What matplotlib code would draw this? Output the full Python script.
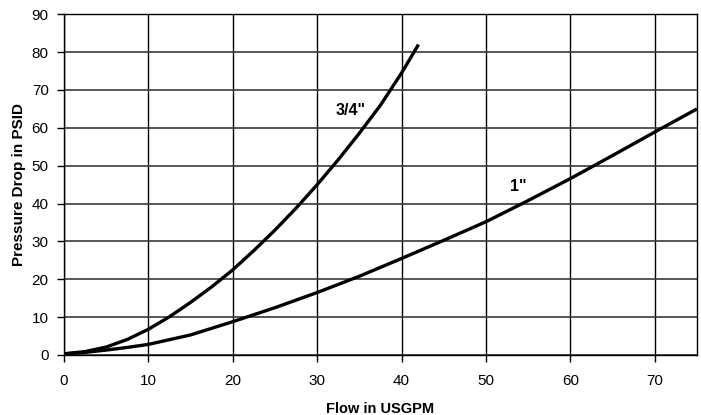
import matplotlib
matplotlib.use("Agg")
import matplotlib.pyplot as plt

plt.rcParams['font.family'] = ['Liberation Sans', 'DejaVu Sans']

# 3/4" valve
flow_34 = [0, 2.5, 5, 7.5, 10, 12.5, 15, 17.5, 20, 22.5, 25, 27.5, 30, 32.5, 35, 37.5, 40, 42]
dp_34 = [0.3, 0.9, 2.1, 4.1, 6.8, 10.1, 13.9, 18.0, 22.5, 27.6, 33.0, 38.8, 45.0, 51.6, 58.6, 66.0, 74.5, 82.0]

# 1" valve
flow_1 = [0, 2.5, 5, 7.5, 10, 15, 20, 25, 30, 35, 40, 45, 50, 55, 60, 65, 70, 75]
dp_1 = [0.3, 0.7, 1.3, 2.0, 2.8, 5.3, 8.8, 12.5, 16.5, 20.8, 25.5, 30.3, 35.2, 40.8, 46.6, 52.7, 58.9, 65.0]

xticks = [0, 10, 20, 30, 40, 50, 60, 70]
yticks = [0, 10, 20, 30, 40, 50, 60, 70, 80, 90]

fig = plt.figure(figsize=(7.01, 4.15), dpi=100)
ax = fig.add_axes([0.0913, 0.1446, 0.903, 0.821])

ax.plot(flow_34, dp_34, color='black', lw=2.4, solid_capstyle='butt', zorder=3)
ax.plot(flow_1, dp_1, color='black', lw=2.4, solid_capstyle='butt', zorder=3)

ax.text(33.9, 64.6, '3/4"', fontsize=11.5, fontweight='bold', ha='center', va='center')
ax.text(53.8, 44.4, '1"', fontsize=11.5, fontweight='bold', ha='center', va='center')

ax.set_xlim(0, 75)
ax.set_ylim(0, 90)
ax.set_xticks(xticks)
ax.set_yticks(yticks)
ax.xaxis.grid(True, color='black', lw=1.0)
ax.yaxis.grid(True, color='#3a3a3a', lw=1.2)
ax.set_axisbelow(True)
for s in ax.spines.values():
    s.set_linewidth(1.0)
    s.set_color('black')
ax.tick_params(direction='out', length=5, width=1, labelsize=11,
               top=False, right=False)
ax.tick_params(axis='x', pad=9)
ax.tick_params(axis='y', pad=6)

ax.set_xlabel('Flow in USGPM', fontsize=10.5, fontweight='bold', labelpad=10)
ax.set_ylabel('Pressure Drop in PSID', fontsize=11, fontweight='bold', labelpad=4)

fig.savefig('out.png', dpi=100)
